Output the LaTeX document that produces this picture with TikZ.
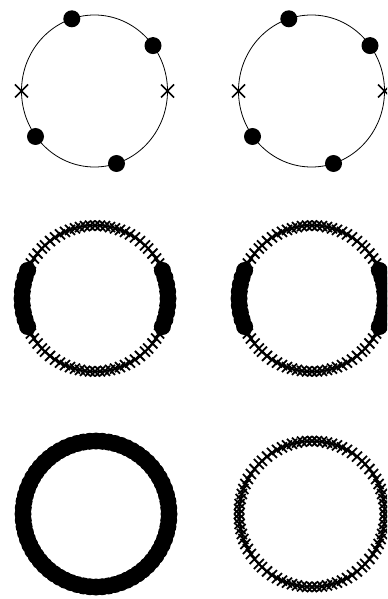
\documentclass[tikz,border=0pt]{standalone}
\tikzset{
  ring/.style={line width=0.8bp},
  thickring/.style={line width=1.4bp},
  xm/.style={line width=1.8bp},
  bigxm/.style={line width=1.6bp},
}
\newcommand\xmk[4][xm]{\draw[#1] (#2-#4,#3-#4) -- (#2+#4,#3+#4) (#2-#4,#3+#4) -- (#2+#4,#3-#4);}
\newcommand\dotmk[3]{\fill (#1,#2) circle[radius=#3];}
% #1 cx, #2 cy, #3 mode: 0 mixed, 2 crosses
\newcommand\ringpts[3]{%
  \draw[thickring] (#1,#2) circle[radius=73];
  \foreach \t in {-50,-45,...,50}{
    \pgfmathsetmacro\s{sqrt(5329-\t*\t)}
    \pgfmathtruncatemacro\isdot{abs(\t)<=27}
    \foreach \sg in {1,-1}{
      \ifnum#3=0
        \xmk{#1+\t}{#2+\sg*\s}{5}
        \ifnum\isdot=0 \xmk{#1+\sg*\s}{#2+\t}{5}\fi
      \else
        \xmk{#1+\t}{#2+\sg*\s}{5}
        \xmk{#1+\sg*\s}{#2+\t}{5}
      \fi
    }
  }
  \ifnum#3=0
  \foreach \t in {-28,-21,...,28}{
    \pgfmathsetmacro\s{sqrt(5329-\t*\t)}
    \dotmk{#1+\s}{#2+\t}{8.5}
    \dotmk{#1-\s}{#2+\t}{8.5}
  }
  \fi
}
% ring made of dots only
\newcommand\dotring[2]{%
  \foreach \a in {0,5,...,355}{
    \pgfmathsetmacro\px{#1+73*cos(\a)}
    \pgfmathsetmacro\py{#2+73*sin(\a)}
    \dotmk{\px}{\py}{8.5}
  }
}
\newcommand\toppts[1]{%
  \draw[ring] (#1+94.5,91) ellipse[x radius=73, y radius=76];
  \xmk[bigxm]{#1+167.5}{91}{6.5}
  \xmk[bigxm]{#1+21.5}{91}{6.5}
  \dotmk{#1+153.0}{45.6}{8.5}
  \dotmk{#1+71.8}{18.8}{8.5}
  \dotmk{#1+35.5}{136.5}{8.5}
  \dotmk{#1+116.5}{163.5}{8.5}
}
\begin{document}
\begin{tikzpicture}[x=1bp,y=-1bp]
  \path[use as bounding box] (0,0) rectangle (387,599);
  \clip (0,0) rectangle (387,599);
  \toppts{0}
  \toppts{217}
  \ringpts{95}{298.5}{0}
  \ringpts{312}{298.5}{0}
  \dotring{96}{514}
  \ringpts{312}{514}{2}
\end{tikzpicture}
\end{document}
